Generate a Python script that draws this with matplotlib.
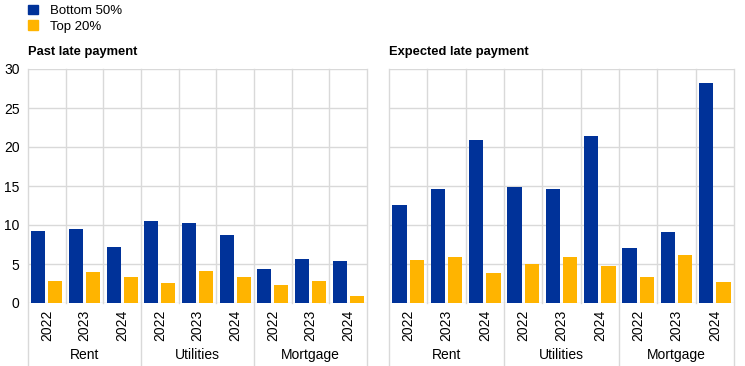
import matplotlib.pyplot as plt
import matplotlib.transforms as mtransforms
from matplotlib.patches import Patch
import numpy as np

plt.rcParams['font.family'] = ['Liberation Sans', 'DejaVu Sans']

years = ['2022', '2023', '2024'] * 3
categories = ['Rent', 'Utilities', 'Mortgage']
series = ['Bottom 50%', 'Top 20%']

past_bottom = [9.2, 9.5, 7.2, 10.5, 10.25, 8.7, 4.35, 5.6, 5.35]
past_top = [2.8, 3.95, 3.3, 2.6, 4.05, 3.3, 2.25, 2.8, 0.85]
exp_bottom = [12.6, 14.65, 20.85, 14.9, 14.65, 21.35, 7.1, 9.05, 28.15]
exp_top = [5.45, 5.95, 3.9, 5.05, 5.95, 4.8, 3.3, 6.2, 2.75]

titles = ['Past late payment', 'Expected late payment']
blue = '#003299'
yellow = '#ffb400'
grid_c = '#d9d9d9'

fig = plt.figure(figsize=(7.45, 3.66), dpi=100)
ax1 = fig.add_axes([28 / 745, 63 / 366, 339 / 745, 234 / 366])
ax2 = fig.add_axes([389 / 745, 63 / 366, 345 / 745, 234 / 366])

x = np.arange(len(years))
w = 0.37
for ax, bot, top, title in [(ax1, past_bottom, past_top, titles[0]),
                            (ax2, exp_bottom, exp_top, titles[1])]:
    ax.bar(x - 0.225, bot, w, color=blue, zorder=3)
    ax.bar(x + 0.225, top, w, color=yellow, zorder=3)
    ax.set_xlim(-0.5, 8.5)
    ax.set_ylim(0, 30)
    ax.set_yticks(range(0, 31, 5))
    ax.set_xticks(x)
    ax.set_xticklabels(years, rotation=90, fontsize=10)
    ax.tick_params(axis='y', length=0, labelsize=10, pad=6)
    ax.tick_params(axis='x', length=0, pad=5)
    for s in ax.spines.values():
        s.set_visible(False)
    for v in range(0, 31, 5):
        ax.axhline(v, color=grid_c, lw=1, zorder=1)
    trans = mtransforms.blended_transform_factory(ax.transData, ax.transAxes)
    for b in np.arange(-0.5, 9, 1):
        low = -0.27 if b in (-0.5, 2.5, 5.5, 8.5) else 0
        ax.plot([b, b], [low, 1], color=grid_c, lw=1, transform=trans,
                clip_on=False, zorder=1)
    for i, cat in enumerate(categories):
        ax.text(3 * i + 1, -0.222, cat, transform=trans, ha='center',
                va='center', fontsize=10)
    ax.text(0, 1.045, title, transform=ax.transAxes, fontsize=9.3,
            fontweight='bold', ha='left', va='bottom')

ax2.set_yticklabels([])

handles = [Patch(color=blue), Patch(color=yellow)]
fig.legend(handles, series, loc='upper left', bbox_to_anchor=(0.022, 1.02),
           frameon=False, fontsize=9.5, handlelength=0.75, handleheight=0.75,
           handletextpad=0.9, labelspacing=0.25)

fig.savefig('out.png', dpi=100)
